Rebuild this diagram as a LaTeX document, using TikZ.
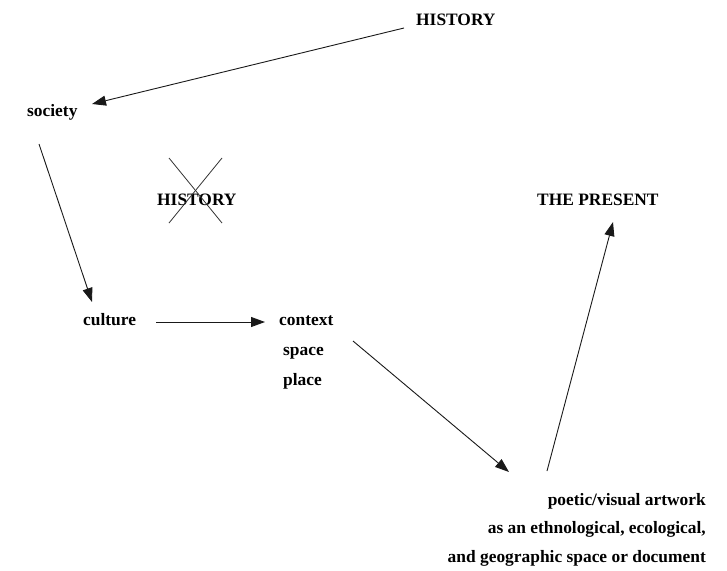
\documentclass[tikz,border=0pt]{standalone}
\usepackage{fontspec}
\setmainfont{Liberation Serif}
\usetikzlibrary{arrows.meta}
\tikzset{
  lbl/.style={font=\fontsize{17.4}{20}\selectfont\bfseries, inner sep=0pt, text=black},
  conn/.style={line width=0.9pt, draw=black!90, -{Triangle[length=14pt,width=10pt]}},
  crossline/.style={line width=0.8pt, draw=black!80}
}
\begin{document}
\begin{tikzpicture}[x=1pt,y=-1pt]
\useasboundingbox (0,0) rectangle (727,570);
% labels
\node[lbl, anchor=base west] (hist1) at (416,25) {HISTORY};
\node[lbl, anchor=base west] (soc) at (27,116) {society};
\node[lbl, anchor=base west] (hist2) at (157,205) {HISTORY};
\node[lbl, anchor=base west] (pres) at (537,205) {THE PRESENT};
\node[lbl, anchor=base west] (cult) at (83,325) {culture};
\node[lbl, anchor=base west] (ctx) at (279,325) {context};
\node[lbl, anchor=base west] (spc) at (283,355) {space};
\node[lbl, anchor=base west] (plc) at (283,385) {place};
\node[lbl, anchor=base east] (art1) at (706,505) {poetic/visual artwork};
\node[lbl, anchor=base east] (art2) at (706,533) {as an ethnological, ecological,};
\node[lbl, anchor=base east] (art3) at (706,562) {and geographic space or document};
% connector end points
\coordinate (a1s) at (404,28);
\coordinate (a1e) at (92,104);
\coordinate (a2s) at (39,144);
\coordinate (a2e) at (92,302);
\coordinate (a3s) at (156,322);
\coordinate (a3e) at (265,322);
\coordinate (a4s) at (353,341);
\coordinate (a4e) at (509,472);
\coordinate (a5s) at (547,471);
\coordinate (a5e) at (613,222);
% cross
\coordinate (x1) at (169,158);
\coordinate (x2) at (222,223);
\coordinate (x3) at (222,158);
\coordinate (x4) at (169,223);
\draw[crossline] (x1) -- (x2);
\draw[crossline] (x3) -- (x4);
% connectors
\draw[conn] (a1s) -- (a1e);
\draw[conn] (a2s) -- (a2e);
\draw[conn] (a3s) -- (a3e);
\draw[conn] (a4s) -- (a4e);
\draw[conn] (a5s) -- (a5e);
\end{tikzpicture}
\end{document}
